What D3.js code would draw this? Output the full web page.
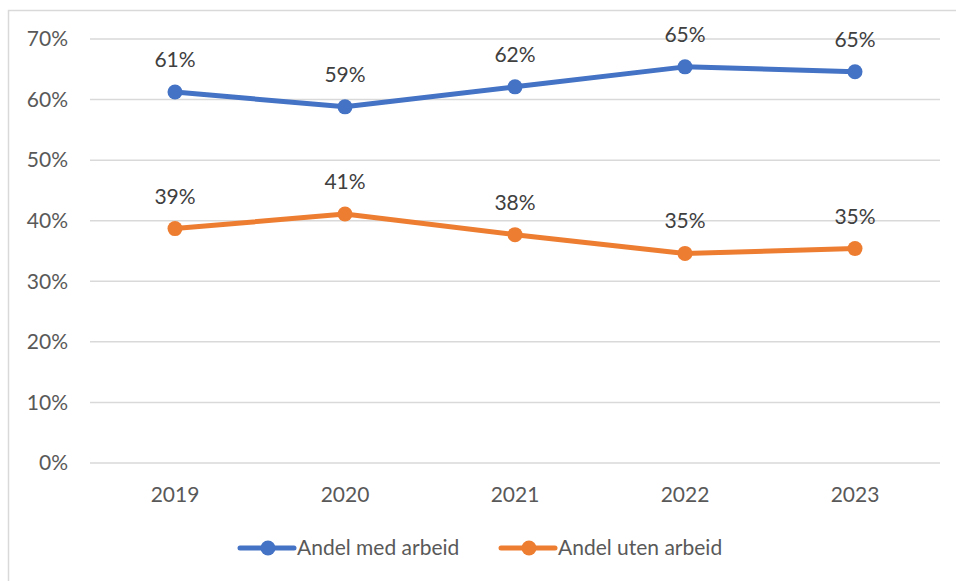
<!DOCTYPE html>
<head>
    <meta charset="utf-8">
    <script src="https://d3js.org/d3.v7.min.js"></script>
    <style>
        body { margin: 0; background: #fff; }
        text { font-family: Lato, "Open Sans", sans-serif; }
    </style>
</head>

<div id="my_dataviz"></div>

<script>
// data
var years = ["2019", "2020", "2021", "2022", "2023"];
var medArbeid = [0.6125, 0.588, 0.621, 0.654, 0.646];
var utenArbeid = [0.387, 0.411, 0.377, 0.346, 0.354];
var medLabels = ["61%", "59%", "62%", "65%", "65%"];
var utenLabels = ["39%", "41%", "38%", "35%", "35%"];
var yTicks = [0, 0.1, 0.2, 0.3, 0.4, 0.5, 0.6, 0.7];

var series = [
    { name: "Andel med arbeid", values: medArbeid, labels: medLabels, color: "#4472C4" },
    { name: "Andel uten arbeid", values: utenArbeid, labels: utenLabels, color: "#ED7D31" }
];

var W = 956, H = 581;
var margin = {top: 39, right: 16, bottom: 118, left: 90},
    width = W - margin.left - margin.right,
    height = H - margin.top - margin.bottom;

var root = d3.select("#my_dataviz")
    .append("svg")
    .attr("width", W)
    .attr("height", H);

// outer chart border
root.append("rect")
    .attr("x", 8.5).attr("y", 10.5)
    .attr("width", W + 10).attr("height", H + 10)
    .attr("fill", "none")
    .attr("stroke", "#d9d9d9")
    .attr("stroke-width", 1.5);

var svg = root.append("g")
    .attr("transform", "translate(" + margin.left + "," + margin.top + ")");

var x = d3.scaleBand()
    .domain(years)
    .range([0, width]);

var y = d3.scaleLinear()
    .domain([0, 0.7])
    .range([height, 0]);

// gridlines
svg.selectAll("grid")
    .data(yTicks)
    .enter()
    .append("line")
    .attr("x1", 0)
    .attr("x2", width)
    .attr("y1", function(d) { return y(d) })
    .attr("y2", function(d) { return y(d) })
    .attr("stroke", "#d9d9d9")
    .attr("stroke-width", 1.5);

// y axis
var yAxis = svg.append("g")
    .call(d3.axisLeft(y).tickValues(yTicks).tickFormat(d3.format(".0%")).tickSize(0).tickPadding(22));
yAxis.select(".domain").remove();
yAxis.selectAll("text")
    .attr("fill", "#595959")
    .style("font-size", "21px");

// x axis
var xAxis = svg.append("g")
    .attr("transform", "translate(0," + height + ")")
    .call(d3.axisBottom(x).tickSize(0).tickPadding(24));
xAxis.select(".domain").remove();
xAxis.selectAll("text")
    .attr("fill", "#595959")
    .style("font-size", "21px");

var line = d3.line()
    .x(function(d, i) { return x(years[i]) + x.bandwidth() / 2 })
    .y(function(d) { return y(d) });

series.forEach(function(s) {
    svg.append("path")
        .datum(s.values)
        .attr("d", line)
        .attr("fill", "none")
        .attr("stroke", s.color)
        .attr("stroke-width", 5)
        .attr("stroke-linecap", "round")
        .attr("stroke-linejoin", "round");

    svg.selectAll(null)
        .data(s.values)
        .enter()
        .append("circle")
        .attr("cx", function(d, i) { return x(years[i]) + x.bandwidth() / 2 })
        .attr("cy", function(d) { return y(d) })
        .attr("r", 7.5)
        .attr("fill", s.color);

    svg.selectAll(null)
        .data(s.values)
        .enter()
        .append("text")
        .attr("x", function(d, i) { return x(years[i]) + x.bandwidth() / 2 })
        .attr("y", function(d) { return y(d) - 25 })
        .attr("text-anchor", "middle")
        .attr("fill", "#404040")
        .style("font-size", "21px")
        .text(function(d, i) { return s.labels[i] });
});

// legend
var legendX = [240, 501];
var legend = root.selectAll("legend")
    .data(series)
    .enter()
    .append("g")
    .attr("transform", function(d, i) { return "translate(" + legendX[i] + ",548)" });

legend.append("line")
    .attr("x1", 0).attr("x2", 54)
    .attr("y1", 0).attr("y2", 0)
    .attr("stroke", function(d) { return d.color })
    .attr("stroke-width", 5)
    .attr("stroke-linecap", "round");

legend.append("circle")
    .attr("cx", 28).attr("cy", 0).attr("r", 7.5)
    .attr("fill", function(d) { return d.color });

legend.append("text")
    .attr("x", 57)
    .attr("y", 0)
    .attr("dy", "0.35em")
    .attr("fill", "#595959")
    .style("font-size", "21px")
    .text(function(d) { return d.name });
</script>
